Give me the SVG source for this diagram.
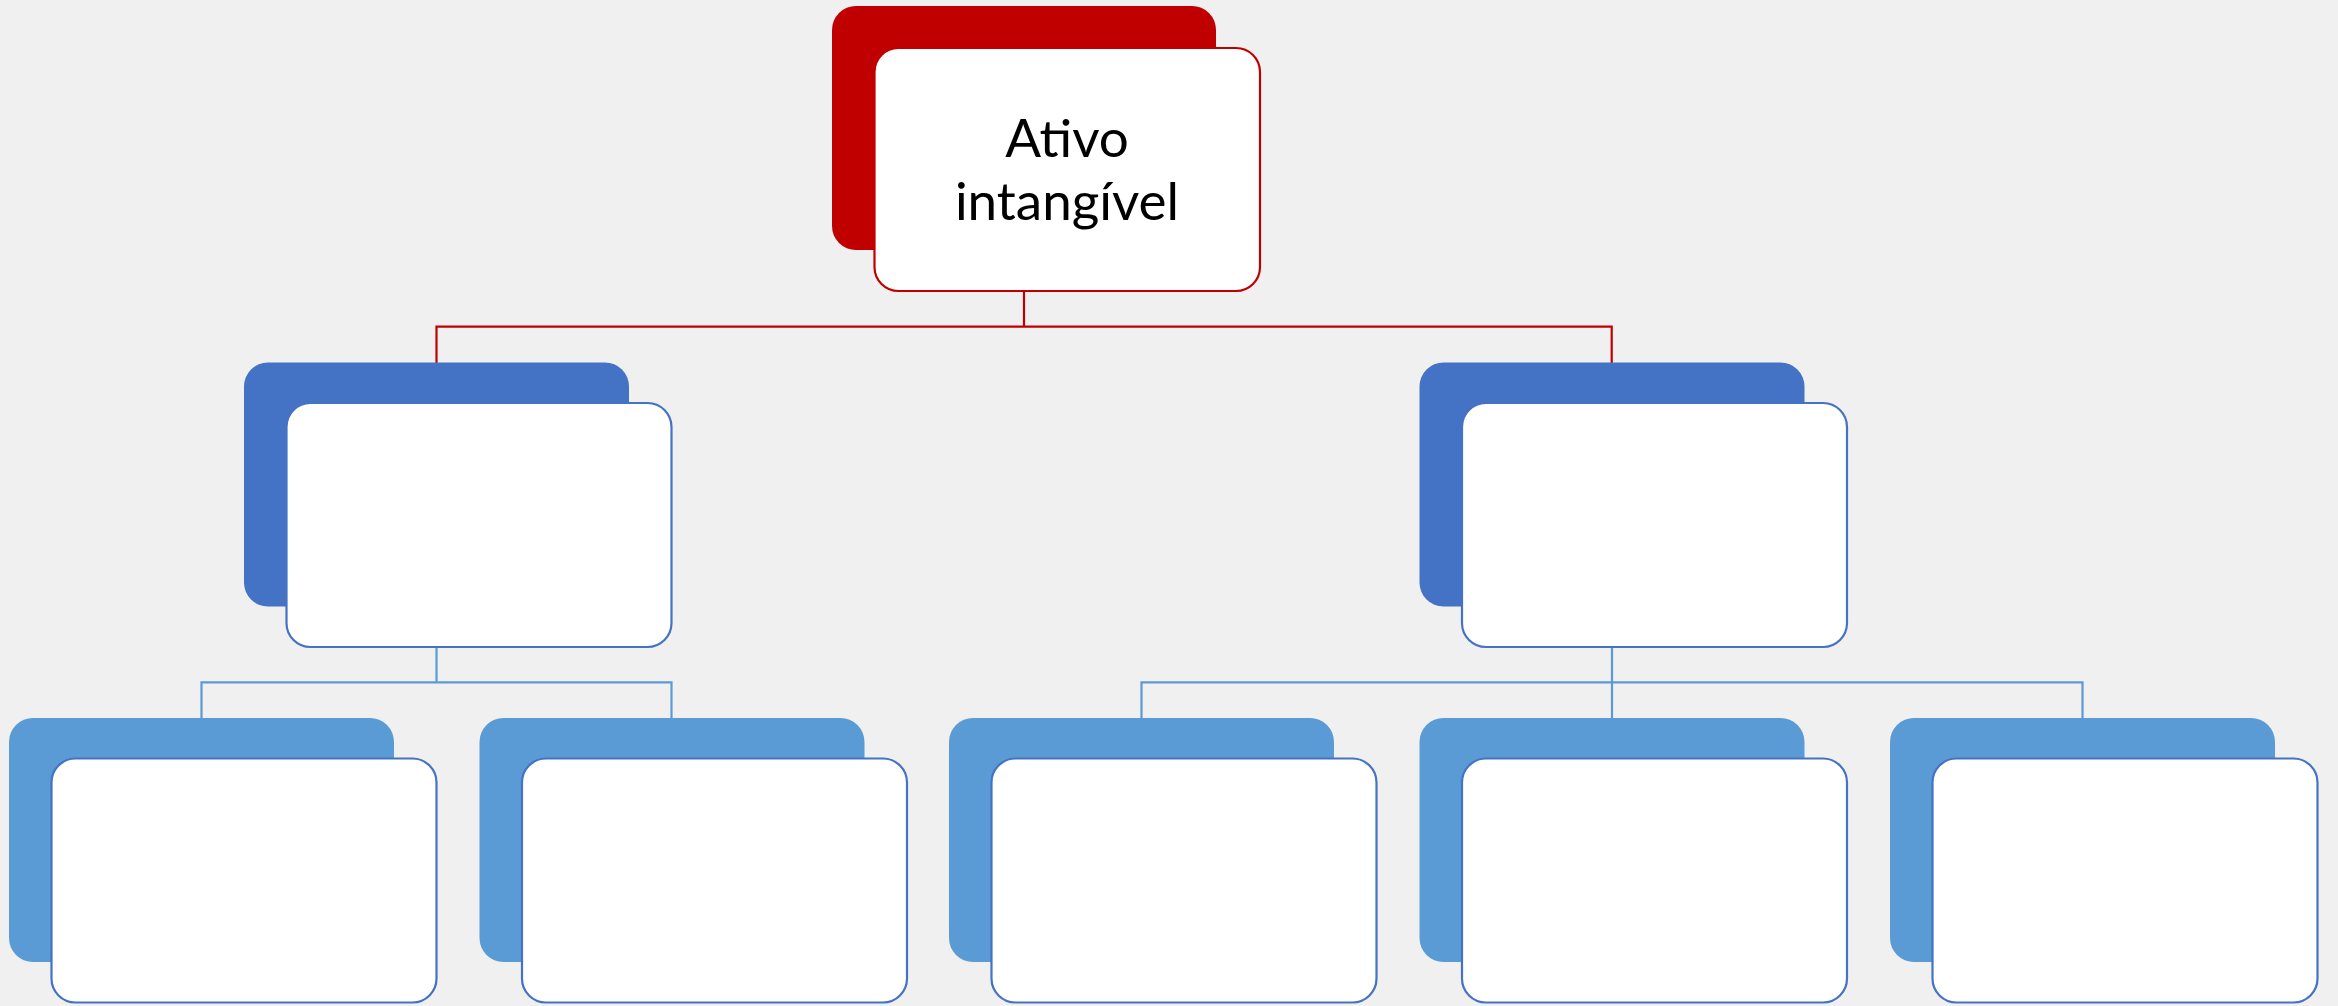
<svg xmlns="http://www.w3.org/2000/svg" width="2338" height="1006" viewBox="0 0 2338 1006">
<style>
.bg{fill:#F0F0F0}
.backRed{fill:#C00000}
.backDark{fill:#4472C4}
.backLight{fill:#5B9BD5}
.front{fill:#FFFFFF;stroke-width:2.2}
.fRed{stroke:#C00000}
.fBlue{stroke:#4472C4}
.conn{fill:none;stroke-width:2.2}
.cRed{stroke:#C00000}
.cBlue{stroke:#5B9BD5}
.label{font-family:Lato,"Open Sans","Liberation Sans",sans-serif;font-size:53px;fill:#000000;text-anchor:middle}
</style>
<rect class="bg" x="0" y="0" width="2338" height="1006"/>
<g id="connectors">
<path class="conn cRed" d="M1024,291 V326.7 M436.5,363 V326.7 H1611.7 V363"/>
<path class="conn cBlue" d="M436.5,647 V682.3 M201.5,718 V682.3 H671.5 V718"/>
<path class="conn cBlue" d="M1612,647 V718 M1141.5,718 V682.3 H2082.5 V718"/>
</g>
<g id="node-root">
<rect class="backRed" x="832" y="6" width="384" height="244" rx="24"/>
<rect class="front fRed" x="874.5" y="48" width="385.5" height="243" rx="24"/>
<text class="label" x="1067" y="157">Ativo</text>
<text class="label" x="1067" y="220">intangível</text>
</g>
<g id="node-l2-left">
<rect class="backDark" x="244" y="362.5" width="385" height="244" rx="24"/>
<rect class="front fBlue" x="286.5" y="403" width="385" height="244" rx="24"/>
</g>
<g id="node-l2-right">
<rect class="backDark" x="1419.5" y="362.5" width="385" height="244" rx="24"/>
<rect class="front fBlue" x="1462" y="403" width="385" height="244" rx="24"/>
</g>
<g id="node-l3-1">
<rect class="backLight" x="9" y="718" width="385" height="244" rx="24"/>
<rect class="front fBlue" x="51.5" y="758.5" width="385" height="244" rx="24"/>
</g>
<g id="node-l3-2">
<rect class="backLight" x="479.5" y="718" width="385" height="244" rx="24"/>
<rect class="front fBlue" x="522" y="758.5" width="385" height="244" rx="24"/>
</g>
<g id="node-l3-3">
<rect class="backLight" x="949" y="718" width="385" height="244" rx="24"/>
<rect class="front fBlue" x="991.5" y="758.5" width="385" height="244" rx="24"/>
</g>
<g id="node-l3-4">
<rect class="backLight" x="1419.5" y="718" width="385" height="244" rx="24"/>
<rect class="front fBlue" x="1462" y="758.5" width="385" height="244" rx="24"/>
</g>
<g id="node-l3-5">
<rect class="backLight" x="1890" y="718" width="385" height="244" rx="24"/>
<rect class="front fBlue" x="1932.5" y="758.5" width="385" height="244" rx="24"/>
</g>
</svg>
